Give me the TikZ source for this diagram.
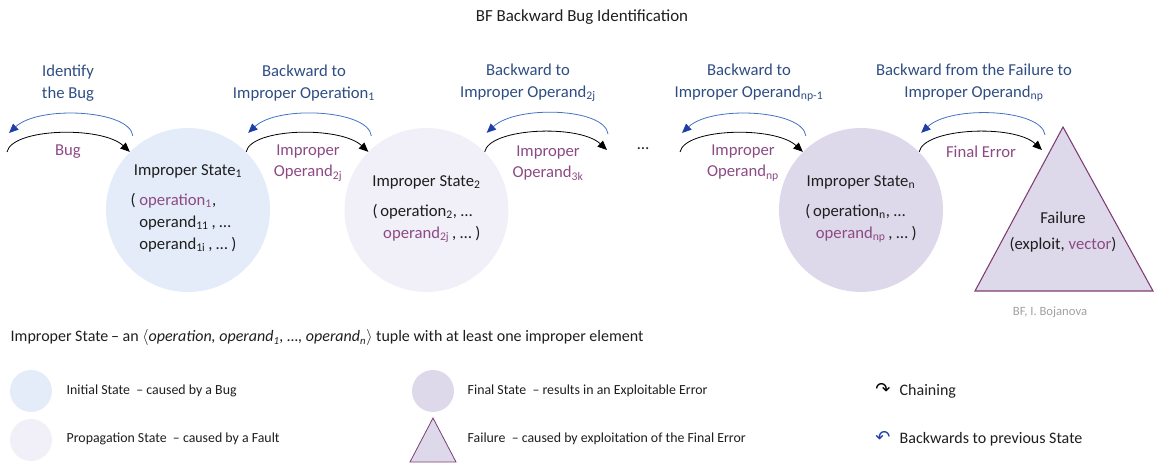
\documentclass[tikz,border=0pt]{standalone}
\usepackage{fontspec}
\setmainfont{Carlito}
\newfontfamily\arrowfont{DejaVu Sans}
\usetikzlibrary{arrows.meta,calc}

\definecolor{initfill}{RGB}{228,236,249}
\definecolor{propfill}{RGB}{241,239,247}
\definecolor{finalfill}{RGB}{222,217,234}
\definecolor{failline}{RGB}{126,60,115}
\definecolor{lblpurple}{RGB}{140,74,132}
\definecolor{backblue}{RGB}{46,77,130}
\definecolor{arcblue}{RGB}{68,114,196}
\definecolor{tipblue}{RGB}{31,63,168}
\definecolor{txt}{RGB}{30,30,30}
\definecolor{signgray}{RGB}{160,160,160}

\newcommand{\idx}[1]{\textsubscript{#1}}

\tikzset{
  state/.style={circle, minimum size=123pt, inner sep=0pt, align=center, text=txt, font=\fontsize{12.5}{16.5}\selectfont},
  legstate/.style={circle, minimum size=31.5pt, inner sep=0pt},
  fwd/.style={line width=0.6pt, -{Triangle[length=7pt,width=6pt]}},
  bwd/.style={arcblue, line width=0.6pt, -{Triangle[length=7pt,width=6pt,color=tipblue]}},
  backlbl/.style={text=backblue, align=center, font=\fontsize{12.5}{16}\selectfont},
  errlbl/.style={text=lblpurple, align=center, font=\fontsize{12.5}{16}\selectfont},
  legtxt/.style={anchor=west, text=txt, font=\fontsize{10.4}{12}\selectfont},
  keytxt/.style={anchor=west, text=txt, font=\fontsize{12}{14}\selectfont},
}

\begin{document}
\begin{tikzpicture}[x=0.75pt,y=0.75pt,yscale=-1,xscale=1]
\useasboundingbox (0,0) rectangle (1154,463);

%Text: title
\node[text=txt, font=\fontsize{12.7}{15}\selectfont] (title) at (582,17) {BF Backward Bug Identification};

%Shape: Circle [initial]
\node[state, fill=initfill] (s1) at (188,210) {Improper State\idx{1}\\[8pt]
  \begin{tabular}{@{}l@{}}\llap{( }\textcolor{lblpurple}{operation\idx{1}},\\
  operand\idx{11}\,, …\\
  operand\idx{1i}\,, … )\end{tabular}};
%Shape: Circle [propagation]
\node[state, fill=propfill] (s2) at (426.5,210) {Improper State\idx{2}\\[8pt]
  \begin{tabular}{@{}l@{}}(\,operation\idx{2}, …\\
  \hspace{8pt}\textcolor{lblpurple}{operand\idx{2j}}\,, … )\end{tabular}};
%Shape: Circle [final]
\node[state, fill=finalfill] (sn) at (861,210) {Improper State\idx{n}\\[8pt]
  \begin{tabular}{@{}l@{}}(\,operation\idx{n}, …\\
  \hspace{8pt}\textcolor{lblpurple}{operand\idx{np}}\,, … )\end{tabular}};
%Shape: Triangle [failure]
\draw[failline, fill=finalfill, line width=0.8pt] (975,291) -- (1063,127) -- (1153,291) -- cycle;
\node[align=center, text=txt, font=\fontsize{12.5}{16}\selectfont] (fail) at (1063,232) {Failure\\[3pt](exploit, \textcolor{lblpurple}{vector})};

%free ends of the arcs
\coordinate (start) at (7,152);
\coordinate (gapl) at (607,150);
\coordinate (gapr) at (680,152);
\coordinate (ftip) at (1042,150);

%Curve Lines: chaining
\draw[fwd] (start) .. controls +(5,-24) and +(-28,-26) .. (s1.135);
\draw[fwd] (s1.45) .. controls +(5,-24) and +(-28,-26) .. (s2.135);
\draw[fwd] (s2.45) .. controls +(5,-24) and +(-28,-26) .. (gapl);
\draw[fwd] (gapr) .. controls +(5,-24) and +(-28,-26) .. (sn.135);
\draw[fwd] (sn.45) .. controls +(5,-24) and +(-28,-26) .. (ftip);
%Curve Lines: backwards
\draw[bwd] ($(s1.135)+(3,-16)$) .. controls +(-3,-26) and +(30,-28) .. ($(start)+(2,-19)$);
\draw[bwd] ($(s2.135)+(3,-16)$) .. controls +(-3,-26) and +(30,-28) .. ($(s1.45)+(2,-19)$);
\draw[bwd] ($(gapl)+(1,-16)$) .. controls +(-3,-26) and +(30,-28) .. ($(s2.45)+(2,-19)$);
\draw[bwd] ($(sn.135)+(3,-16)$) .. controls +(-3,-26) and +(30,-28) .. ($(gapr)+(2,-19)$);
\draw[bwd] ($(ftip)+(3,-15)$) .. controls +(-3,-26) and +(30,-28) .. ($(sn.45)+(2,-19)$);

%Text: backward labels
\node[backlbl] (b1) at (68,83) {Identify\\the Bug};
\node[backlbl] (b2) at (304,83) {Backward to\\Improper Operation\idx{1}};
\node[backlbl] (b3) at (528,83) {Backward to\\Improper Operand\idx{2j}};
\node[backlbl] (b4) at (749,83) {Backward to\\Improper Operand\idx{np-1}};
\node[backlbl] (b5) at (974,83) {Backward from the Failure to\\Improper Operand\idx{np}};
%Text: error labels
\node[errlbl] (e1) at (68,152) {Bug};
\node[errlbl] (e2) at (308,163) {Improper\\Operand\idx{2j}};
\node[errlbl] (e3) at (548,163) {Improper\\Operand\idx{3k}};
\node[text=txt, font=\fontsize{12.5}{16}\selectfont] (dots) at (643,149) {…};
\node[errlbl] (e4) at (743,163) {Improper\\Operand\idx{np}};
\node[errlbl] (e5) at (981,152) {Final Error};
\node[text=signgray, font=\fontsize{9.5}{11}\selectfont] (sign) at (1050,312) {BF, I. Bojanova};

%Legend
\node[keytxt] (defn) at (6,338) {Improper State\,– an $\langle$\textit{operation, operand\idx{1}, …, operand\idx{n}}$\rangle$ tuple with at least one improper element};
\node[legstate, fill=initfill] (li) at (31,391) {};
\node[legstate, fill=propfill] (lp) at (31,440) {};
\node[legstate, fill=finalfill] (lf) at (433,391) {};
\draw[failline, fill=finalfill, line width=0.6pt] (410,462) -- (433,418) -- (456,462) -- cycle;
\node[legtxt] (ti) at (62,391) {Initial State \ – caused by a Bug};
\node[legtxt] (tp) at (62,439) {Propagation State \ – caused by a Fault};
\node[legtxt] (tf) at (463,391) {Final State \ – results in an Exploitable Error};
\node[legtxt] (tx) at (463,439) {Failure \ – caused by exploitation of the Final Error};
\node[anchor=center, font=\arrowfont\fontsize{13.5}{14}\selectfont] (ic) at (883,389) {↷};
\node[keytxt] (tc) at (895,391) {Chaining};
\node[anchor=center, text=tipblue, font=\arrowfont\fontsize{13.5}{14}\selectfont] (ib) at (883,437) {↶};
\node[keytxt] (tb) at (895,439) {Backwards to previous State};

\end{tikzpicture}
\end{document}
